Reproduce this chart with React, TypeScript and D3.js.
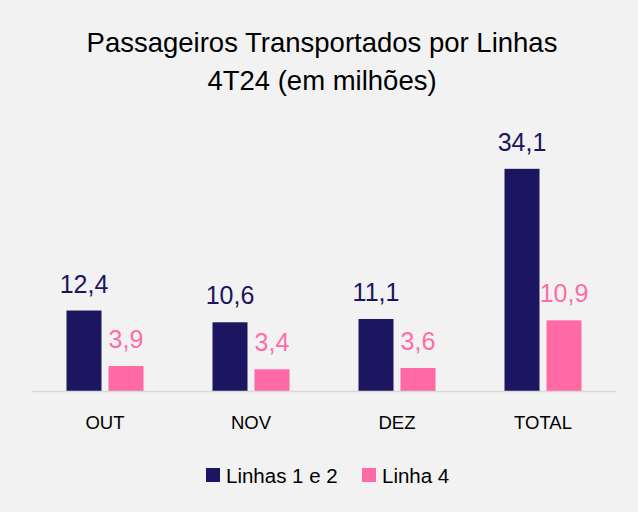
import React from "react";
import * as d3 from "d3";

const categories = ["OUT", "NOV", "DEZ", "TOTAL"];
const seriesNames = ["Linhas 1 e 2", "Linha 4"];
const linhas12 = [12.4, 10.6, 11.1, 34.1];
const linha4 = [3.9, 3.4, 3.6, 10.9];
const titleLines = ["Passageiros Transportados por Linhas", "4T24 (em milhões)"];

const W = 638;
const H = 512;
const colors = ["#1c1660", "#ff69a6"];
const labelColors = ["#1c1660", "#ff6ca8"];
const font = "'Liberation Sans', Arial, sans-serif";

export default function App() {
  const x = d3.scaleBand<string>().domain(categories).range([32, 616]);
  const groupW = 77;
  const x1 = d3.scaleBand<string>().domain(seriesNames).range([0, groupW]).paddingInner(1 / 6);
  const y = d3.scaleLinear().domain([0, 40]).range([391.5, 130.3]);
  const fmt = (v: number) => v.toFixed(1).replace(".", ",");
  const seriesVals = [linhas12, linha4];

  return (
    <svg
      width={W}
      height={H}
      style={{ position: "absolute", left: 0, top: 0, display: "block" }}
      fontFamily={font}
    >
      <rect x={0} y={0} width={W} height={H} fill="#f2f2f2" />
      {titleLines.map((t, i) => (
        <text key={i} x={322} y={52 + i * 38} textAnchor="middle" fontSize={27.5} fill="#000">
          {t}
        </text>
      ))}
      {categories.map((c, ci) => {
        const gx = (x(c) as number) + (x.bandwidth() - groupW) / 2;
        return (
          <g key={c}>
            {seriesNames.map((s, si) => {
              const v = seriesVals[si][ci];
              const bx = gx + (x1(s) as number);
              const bw = x1.bandwidth();
              return (
                <g key={s}>
                  <rect x={bx} y={y(v)} width={bw} height={y(0) - y(v)} fill={colors[si]} />
                  <text
                    x={bx + bw / 2}
                    y={y(v) - 18}
                    textAnchor="middle"
                    fontSize={25}
                    fill={labelColors[si]}
                  >
                    {fmt(v)}
                  </text>
                </g>
              );
            })}
            <text
              x={(x(c) as number) + x.bandwidth() / 2}
              y={429}
              textAnchor="middle"
              fontSize={18.5}
              fill="#000"
            >
              {c}
            </text>
          </g>
        );
      })}
      <line x1={32} x2={616} y1={391.5} y2={391.5} stroke="#d9d9d9" strokeWidth={1.5} />
      <g>
        <rect x={206} y={468} width={14} height={14} fill={colors[0]} />
        <text x={226} y={483} fontSize={20.5} fill="#000">{seriesNames[0]}</text>
        <rect x={362} y={468} width={14} height={14} fill={colors[1]} />
        <text x={382} y={483} fontSize={20.5} fill="#000">{seriesNames[1]}</text>
      </g>
    </svg>
  );
}
